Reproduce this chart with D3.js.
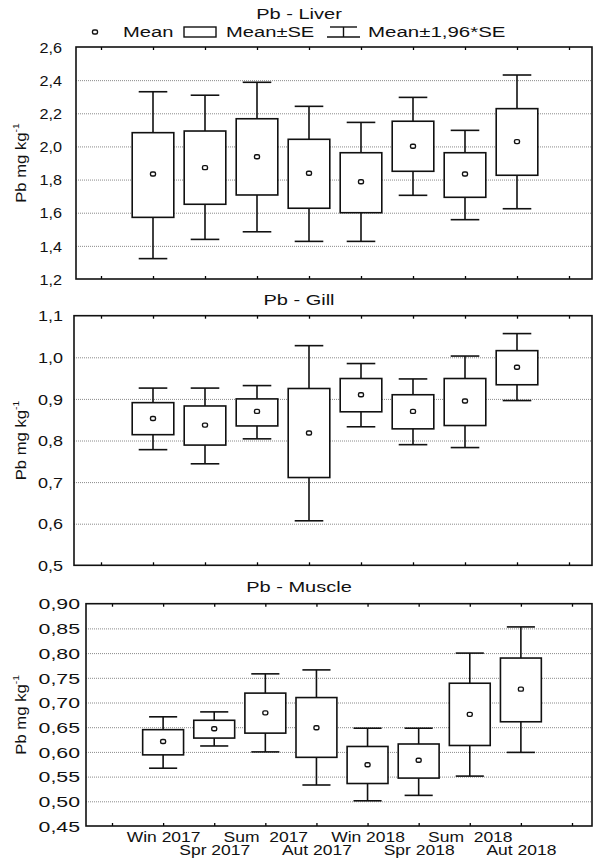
<!DOCTYPE html>
<html>
<head>
<meta charset="utf-8">
<script src="https://cdn.jsdelivr.net/npm/d3@7"></script>
<style>
  body { margin: 0; background: #fff; }
  text { font-family: "Liberation Sans", Arial, sans-serif; fill: #111; }
</style>
</head>
<body>
<svg id="chart" width="593" height="858"></svg>
<script>
// categories on the x axis (same for all three panels)
var seasons = ["Win 2017", "Spr 2017", "Sum  2017", "Aut 2017", "Win 2018", "Spr 2018", "Sum  2018", "Aut 2018"];

// Pb - Liver
var liverMean = [1.834, 1.872, 1.938, 1.838, 1.787, 2.001, 1.834, 2.029];
var liverSeHi = [2.083, 2.093, 2.167, 2.043, 1.962, 2.152, 1.962, 2.228];
var liverSeLo = [1.572, 1.651, 1.707, 1.627, 1.600, 1.850, 1.693, 1.826];
var liverCiHi = [2.330, 2.309, 2.387, 2.242, 2.145, 2.296, 2.097, 2.431];
var liverCiLo = [1.323, 1.439, 1.485, 1.427, 1.427, 1.705, 1.558, 1.624];

// Pb - Gill
var gillMean = [0.853, 0.837, 0.870, 0.818, 0.910, 0.870, 0.895, 0.976];
var gillSeHi = [0.891, 0.883, 0.900, 0.925, 0.949, 0.910, 0.949, 1.016];
var gillSeLo = [0.814, 0.789, 0.835, 0.711, 0.869, 0.828, 0.836, 0.934];
var gillCiHi = [0.926, 0.926, 0.932, 1.028, 0.985, 0.948, 1.003, 1.057];
var gillCiLo = [0.778, 0.744, 0.804, 0.607, 0.833, 0.790, 0.783, 0.896];

// Pb - Muscle
var muscleMean = [0.621, 0.647, 0.679, 0.649, 0.574, 0.583, 0.676, 0.727];
var muscleSeHi = [0.645, 0.664, 0.719, 0.710, 0.611, 0.616, 0.739, 0.790];
var muscleSeLo = [0.594, 0.628, 0.638, 0.589, 0.536, 0.547, 0.613, 0.661];
var muscleCiHi = [0.671, 0.681, 0.758, 0.766, 0.648, 0.648, 0.800, 0.853];
var muscleCiLo = [0.567, 0.612, 0.600, 0.533, 0.501, 0.512, 0.551, 0.599];

// y axis ticks
var liverTicks = [1.2, 1.4, 1.6, 1.8, 2.0, 2.2, 2.4, 2.6];
var gillTicks = [0.5, 0.6, 0.7, 0.8, 0.9, 1.0, 1.1];
var muscleTicks = [0.45, 0.50, 0.55, 0.60, 0.65, 0.70, 0.75, 0.80, 0.85, 0.90];

var panels = [
  {title: "Pb - Liver", titleY: 19, mean: liverMean, seHi: liverSeHi, seLo: liverSeLo, ciHi: liverCiHi, ciLo: liverCiLo,
   ticks: liverTicks, dec: 1, left: 76, right: 592, top: 47, bottom: 279, x0: 101, x9: 569, pad: 14, sx: 1.08, labels: false},
  {title: "Pb - Gill", titleY: 305, mean: gillMean, seHi: gillSeHi, seLo: gillSeLo, ciHi: gillCiHi, ciLo: gillCiLo,
   ticks: gillTicks, dec: 1, left: 74, right: 592, top: 315.7, bottom: 565.3, x0: 101, x9: 569, pad: 11, sx: 1.2, labels: false},
  {title: "Pb - Muscle", titleY: 592, mean: muscleMean, seHi: muscleSeHi, seLo: muscleSeLo, ciHi: muscleCiHi, ciLo: muscleCiLo,
   ticks: muscleTicks, dec: 2, left: 86, right: 592, top: 603.7, bottom: 826, x0: 112, x9: 572, pad: 6, sx: 1.42, labels: true}
];

var svg = d3.select("#chart");

function stretchText(sel, x, y, sx, anchor, size) {
  sel.attr("x", 0).attr("y", 0)
     .attr("text-anchor", anchor)
     .attr("font-size", size)
     .attr("transform", "translate(" + x + "," + y + ") scale(" + sx + ",1)");
}

panels.forEach(function(p) {
  var g = svg.append("g");
  var x = d3.scaleLinear().domain([0, 9]).range([p.x0, p.x9]);
  var y = d3.scaleLinear().domain([p.ticks[0], p.ticks[p.ticks.length - 1]]).range([p.bottom, p.top]);
  var fmt = function(v) { return d3.format("." + p.dec + "f")(v).replace(".", ","); };

  // title
  g.append("text").text(p.title).call(stretchText, 299, p.titleY, 1.38, "middle", 14.5);

  // dotted grid
  var grid = g.append("g").attr("transform", "translate(" + p.left + ",0)")
    .call(d3.axisLeft(y).tickValues(p.ticks.slice(1, -1)).tickSize(-(p.right - p.left)).tickFormat(""));
  grid.select(".domain").remove();
  grid.selectAll("line").attr("stroke", "#8a8a8a").attr("stroke-dasharray", "1,1").attr("stroke-width", 1);

  // y axis labels
  var ya = g.append("g").attr("transform", "translate(" + p.left + ",0)")
    .call(d3.axisLeft(y).tickValues(p.ticks).tickSize(0).tickFormat(fmt));
  ya.select(".domain").remove();
  ya.selectAll("text").attr("fill", "#111").attr("font-family", null)
    .attr("x", 0).attr("dy", "0.35em").attr("font-size", 15)
    .attr("transform", "translate(" + (-p.pad) + ",0) scale(" + p.sx + ",1)");

  // top and bottom inner ticks
  var xt = g.append("g").attr("transform", "translate(0," + p.top + ")")
    .call(d3.axisTop(x).tickValues(d3.range(10)).tickSize(-3).tickFormat(""));
  xt.select(".domain").remove();
  var xb = g.append("g").attr("transform", "translate(0," + p.bottom + ")")
    .call(d3.axisBottom(x).tickValues(d3.range(10)).tickSize(-3)
      .tickFormat(function(i) { return p.labels && i >= 1 && i <= 8 ? seasons[i - 1] : ""; }));
  xb.select(".domain").remove();
  xb.selectAll("line").attr("stroke-width", 1.3);
  xt.selectAll("line").attr("stroke-width", 1.3);
  if (p.labels) {
    xb.selectAll("text").attr("fill", "#111").attr("font-family", null).attr("font-size", 14)
      .style("white-space", "pre")
      .attr("y", 0).attr("dy", null)
      .attr("transform", function(i) { return "translate(0," + (i % 2 === 1 ? 15.5 : 28.5) + ") scale(1.25,1)"; });
  }

  // frame
  g.append("rect").attr("x", p.left).attr("y", p.top)
    .attr("width", p.right - p.left).attr("height", p.bottom - p.top)
    .attr("fill", "none").attr("stroke", "#111").attr("stroke-width", 1.6);

  // y axis title
  var yt = g.append("text")
    .attr("transform", "translate(26," + ((p.top + p.bottom) / 2) + ") rotate(-90) scale(1.15,1)")
    .attr("text-anchor", "middle").attr("font-size", 14.5);
  yt.append("tspan").text("Pb mg kg");
  yt.append("tspan").text("-1").attr("font-size", 9).attr("dy", -7);

  // boxes
  var step = x(1) - x(0);
  var bw = step * 0.8, cw = step * 0.55;
  var idx = d3.range(seasons.length);
  var items = g.selectAll(".item").data(idx).enter().append("g").attr("class", "item");
  items.append("line")
    .attr("x1", function(i) { return x(i + 1); }).attr("x2", function(i) { return x(i + 1); })
    .attr("y1", function(i) { return y(p.ciHi[i]); }).attr("y2", function(i) { return y(p.ciLo[i]); })
    .attr("stroke", "#111").attr("stroke-width", 1.6);
  ["ciHi", "ciLo"].forEach(function(k) {
    items.append("line")
      .attr("x1", function(i) { return x(i + 1) - cw / 2; }).attr("x2", function(i) { return x(i + 1) + cw / 2; })
      .attr("y1", function(i) { return y(p[k][i]); }).attr("y2", function(i) { return y(p[k][i]); })
      .attr("stroke", "#111").attr("stroke-width", 1.6);
  });
  items.append("rect")
    .attr("x", function(i) { return x(i + 1) - bw / 2; })
    .attr("y", function(i) { return y(p.seHi[i]); })
    .attr("width", bw)
    .attr("height", function(i) { return y(p.seLo[i]) - y(p.seHi[i]); })
    .attr("fill", "#fff").attr("stroke", "#111").attr("stroke-width", 1.6);
  items.append("rect")
    .attr("x", function(i) { return x(i + 1) - 2.5; })
    .attr("y", function(i) { return y(p.mean[i]) - 2; })
    .attr("width", 5).attr("height", 4).attr("rx", 1.5)
    .attr("fill", "#fff").attr("stroke", "#111").attr("stroke-width", 1.4);
});

// legend
var lg = svg.append("g");
lg.append("rect").attr("x", 92.5).attr("y", 30).attr("width", 5).attr("height", 4).attr("rx", 1.5)
  .attr("fill", "#fff").attr("stroke", "#111").attr("stroke-width", 1.4);
lg.append("text").text("Mean").call(stretchText, 123, 37, 1.3, "start", 15.5);
lg.append("rect").attr("x", 184).attr("y", 27).attr("width", 32).attr("height", 10)
  .attr("fill", "#fff").attr("stroke", "#111").attr("stroke-width", 1.4);
lg.append("text").text("Mean±SE").call(stretchText, 226, 37, 1.3, "start", 15.5);
lg.append("line").attr("x1", 330).attr("x2", 357).attr("y1", 27).attr("y2", 27).attr("stroke", "#111").attr("stroke-width", 1.4);
lg.append("line").attr("x1", 343.5).attr("x2", 343.5).attr("y1", 27).attr("y2", 37).attr("stroke", "#111").attr("stroke-width", 1.4);
lg.append("line").attr("x1", 327).attr("x2", 360).attr("y1", 37).attr("y2", 37).attr("stroke", "#111").attr("stroke-width", 1.4);
lg.append("text").text("Mean±1,96*SE").call(stretchText, 368, 37, 1.32, "start", 15.5);
</script>
</body>
</html>
